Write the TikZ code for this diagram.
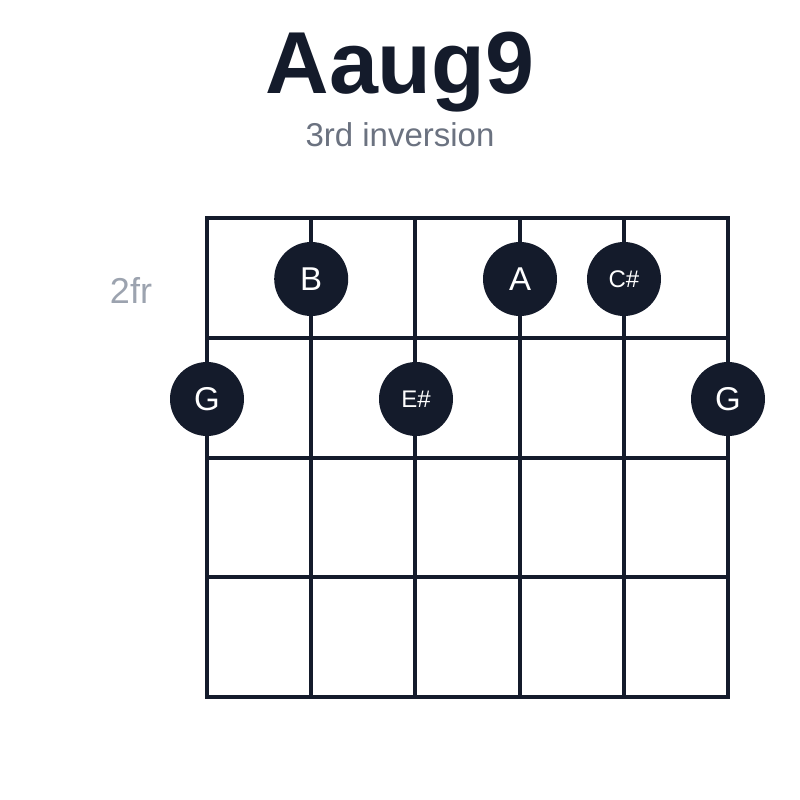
\documentclass[tikz,border=0pt]{standalone}
\usepackage{fontspec}
\setmainfont{Liberation Sans}
\definecolor{ink}{HTML}{141B2B}
\definecolor{subgray}{HTML}{6B7280}
\definecolor{frgray}{HTML}{9CA3AF}
\tikzset{
  dot/.style={circle, fill=ink, minimum size=74pt, inner sep=0pt, text=white, font=\fontsize{33}{33}\selectfont},
  smalldot/.style={dot, font=\fontsize{24}{24}\selectfont},
  grid line/.style={draw=ink, line width=4pt}
}
\begin{document}
\begin{tikzpicture}[x=1pt,y=-1pt]
\useasboundingbox (0,0) rectangle (800,800);
% title
\node[font=\bfseries\fontsize{88}{88}\selectfont, text=ink] (title) at (400,72) {Aaug9};
\node[font=\fontsize{33}{33}\selectfont, text=subgray] (sub) at (400,135) {3rd inversion};
\node[font=\fontsize{36}{36}\selectfont, text=frgray] (fr) at (131,290) {2fr};
% strings and frets
\foreach \i in {0,...,5}
  \draw[grid line] ({207+\i*104.2},218) -- ({207+\i*104.2},697);
\foreach \j in {0,...,4}
  \draw[grid line, line cap=rect] (207,{218+\j*119.75}) -- (728,{218+\j*119.75});
% notes
\node[dot] (nB) at (311.2,279) {B};
\node[dot] (nA) at (520,279) {A};
\node[smalldot] (nCs) at (624,279) {C\#};
\node[dot] (nG1) at (207,399) {G};
\node[smalldot] (nEs) at (416,399) {E\#};
\node[dot] (nG6) at (728,399) {G};
\end{tikzpicture}
\end{document}
